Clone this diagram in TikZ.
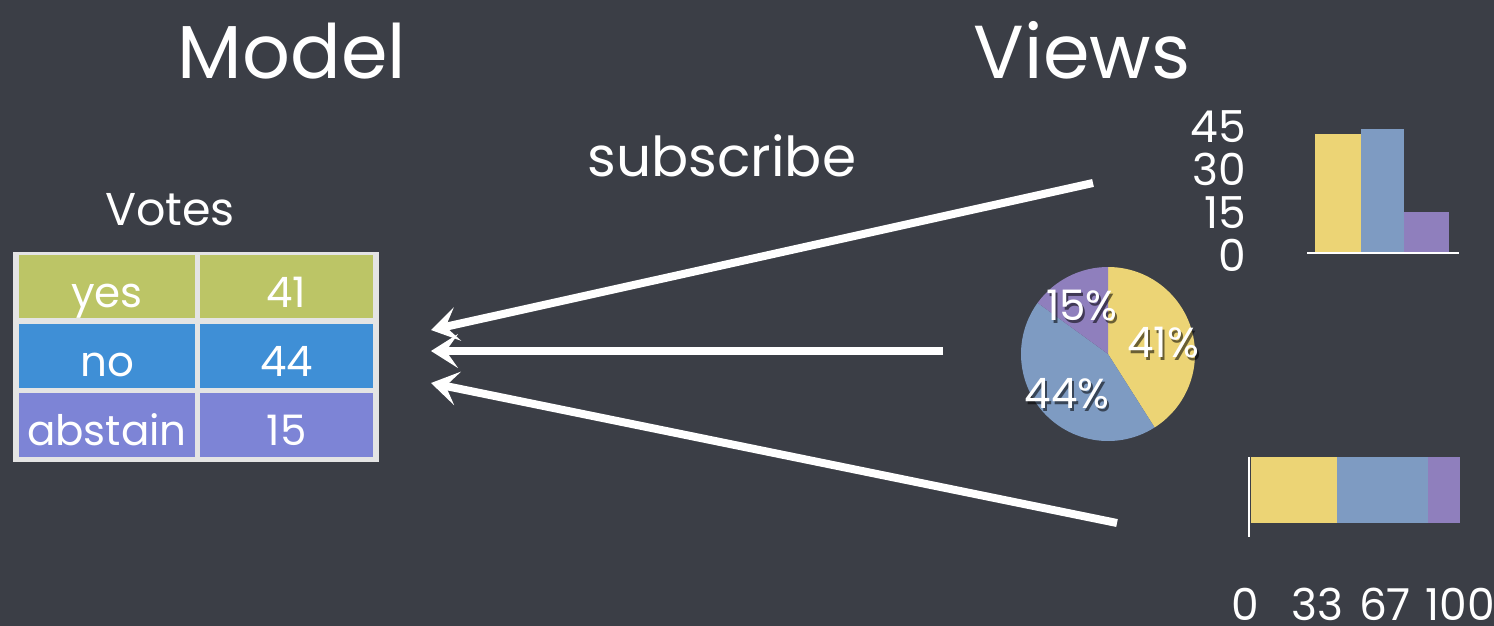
\documentclass[tikz,border=0pt]{standalone}
\usepackage{fontspec}
\setmainfont{Poppins}
\usetikzlibrary{arrows.meta}
\definecolor{board}{HTML}{3B3E46}
\definecolor{rim}{HTML}{E4E4E4}
\definecolor{cyes}{HTML}{BCC566}
\definecolor{cno}{HTML}{3F8FD6}
\definecolor{cabs}{HTML}{7D84D6}
\definecolor{vyel}{HTML}{ECD475}
\definecolor{vblue}{HTML}{7E9BC2}
\definecolor{vpurp}{HTML}{8F7FBD}
\tikzset{
  txt/.style={text=white, inner sep=0pt, anchor=base},
  big/.style={txt, font=\fontsize{75}{78}\selectfont},
  mid/.style={txt, font=\fontsize{55}{58}\selectfont},
  small/.style={txt, font=\fontsize{44}{46}\selectfont},
  cell/.style={inner sep=0pt, minimum height=63pt},
  celltxt/.style={txt, font=\fontsize{42}{44}\selectfont},
  shadowtxt/.style={txt, text=black, opacity=0.55, font=\fontsize{42}{44}\selectfont},
  pietxt/.style={txt, font=\fontsize{42}{44}\selectfont},
  feed/.style={draw=white, line width=8pt, -{Stealth[length=27pt,width=34pt,inset=12pt]}},
}
\begin{document}
\begin{tikzpicture}[x=1pt,y=-1pt]
\fill[board] (0,0) rectangle (1494,626);
\useasboundingbox (0,0) rectangle (1494,626);

% titles
\node[big] (model) at (292,78) {Model};
\node[big] (views) at (1082,78) {Views};
\node[mid] (sub) at (722,176) {subscribe};
\node[mid, font=\fontsize{46}{48}\selectfont] (votes) at (170,225) {Votes};

% table
\fill[rim] (13,252) rectangle (379,462);
\node[cell, fill=cyes, minimum width=176pt] (yes) at (107,286.5) {};
\node[cell, fill=cyes, minimum width=173pt] (yesv) at (286.5,286.5) {};
\node[cell, fill=cno, minimum width=176pt, minimum height=64pt] (no) at (107,356) {};
\node[cell, fill=cno, minimum width=173pt, minimum height=64pt] (nov) at (286.5,356) {};
\node[cell, fill=cabs, minimum width=176pt, minimum height=64pt] (abs) at (107,425) {};
\node[cell, fill=cabs, minimum width=173pt, minimum height=64pt] (absv) at (286.5,425) {};
\node[celltxt] (yest) at (107,307) {yes};
\node[celltxt] (yesvt) at (286.5,307) {41};
\node[celltxt] (not) at (107,376) {no};
\node[celltxt] (novt) at (286.5,376) {44};
\node[celltxt] (abst) at (107,445) {abstain};
\node[celltxt] (absvt) at (286.5,445) {15};

% bar chart
\fill[vyel] (1315,134) rectangle (1361,252);
\fill[vblue] (1361,129) rectangle (1404,252);
\fill[vpurp] (1404,212) rectangle (1449,252);
\draw[white, line width=2pt] (1307,253) -- (1459,253);
\node[small, anchor=base east] (a45) at (1246,142) {45};
\node[small, anchor=base east] (a30) at (1246,185) {30};
\node[small, anchor=base east] (a15) at (1246,228) {15};
\node[small, anchor=base east] (a0) at (1246,271) {0};

% pie chart
\coordinate (pc) at (1108,354);
\fill[vyel] (pc) -- ++(90:87pt) arc[start angle=90, end angle=-57.6, radius=87pt] -- cycle;
\fill[vblue] (pc) -- ++(-57.6:87pt) arc[start angle=-57.6, end angle=-216, radius=87pt] -- cycle;
\fill[vpurp] (pc) -- ++(144:87pt) arc[start angle=144, end angle=90, radius=87pt] -- cycle;
\node[shadowtxt] at (1084,323) {15\%};
\node[shadowtxt] at (1165,360) {41\%};
\node[shadowtxt] at (1069,411) {44\%};
\node[pietxt] (p15) at (1082,320) {15\%};
\node[pietxt] (p41) at (1163,357) {41\%};
\node[pietxt] (p44) at (1067,408) {44\%};

% stacked bar
\fill[vyel] (1251,457) rectangle (1337,523);
\fill[vblue] (1337,457) rectangle (1428,523);
\fill[vpurp] (1428,457) rectangle (1460,523);
\draw[white, line width=2.5pt] (1249,457) -- (1249,537);
\node[small] (b0) at (1245,620) {0};
\node[small] (b33) at (1317,620) {33};
\node[small] (b67) at (1385,620) {67};
\node[small] (b100) at (1460,620) {100};

% subscriptions
\coordinate (s1) at (1093,183);
\coordinate (s2) at (943,351);
\coordinate (s3) at (1117,523);
\coordinate (t1) at (431,330);
\coordinate (t2) at (431,351);
\coordinate (t3) at (431,383);
\draw[feed] (s1) -- (t1);
\draw[feed] (s2) -- (t2);
\draw[feed] (s3) -- (t3);
\end{tikzpicture}
\end{document}
